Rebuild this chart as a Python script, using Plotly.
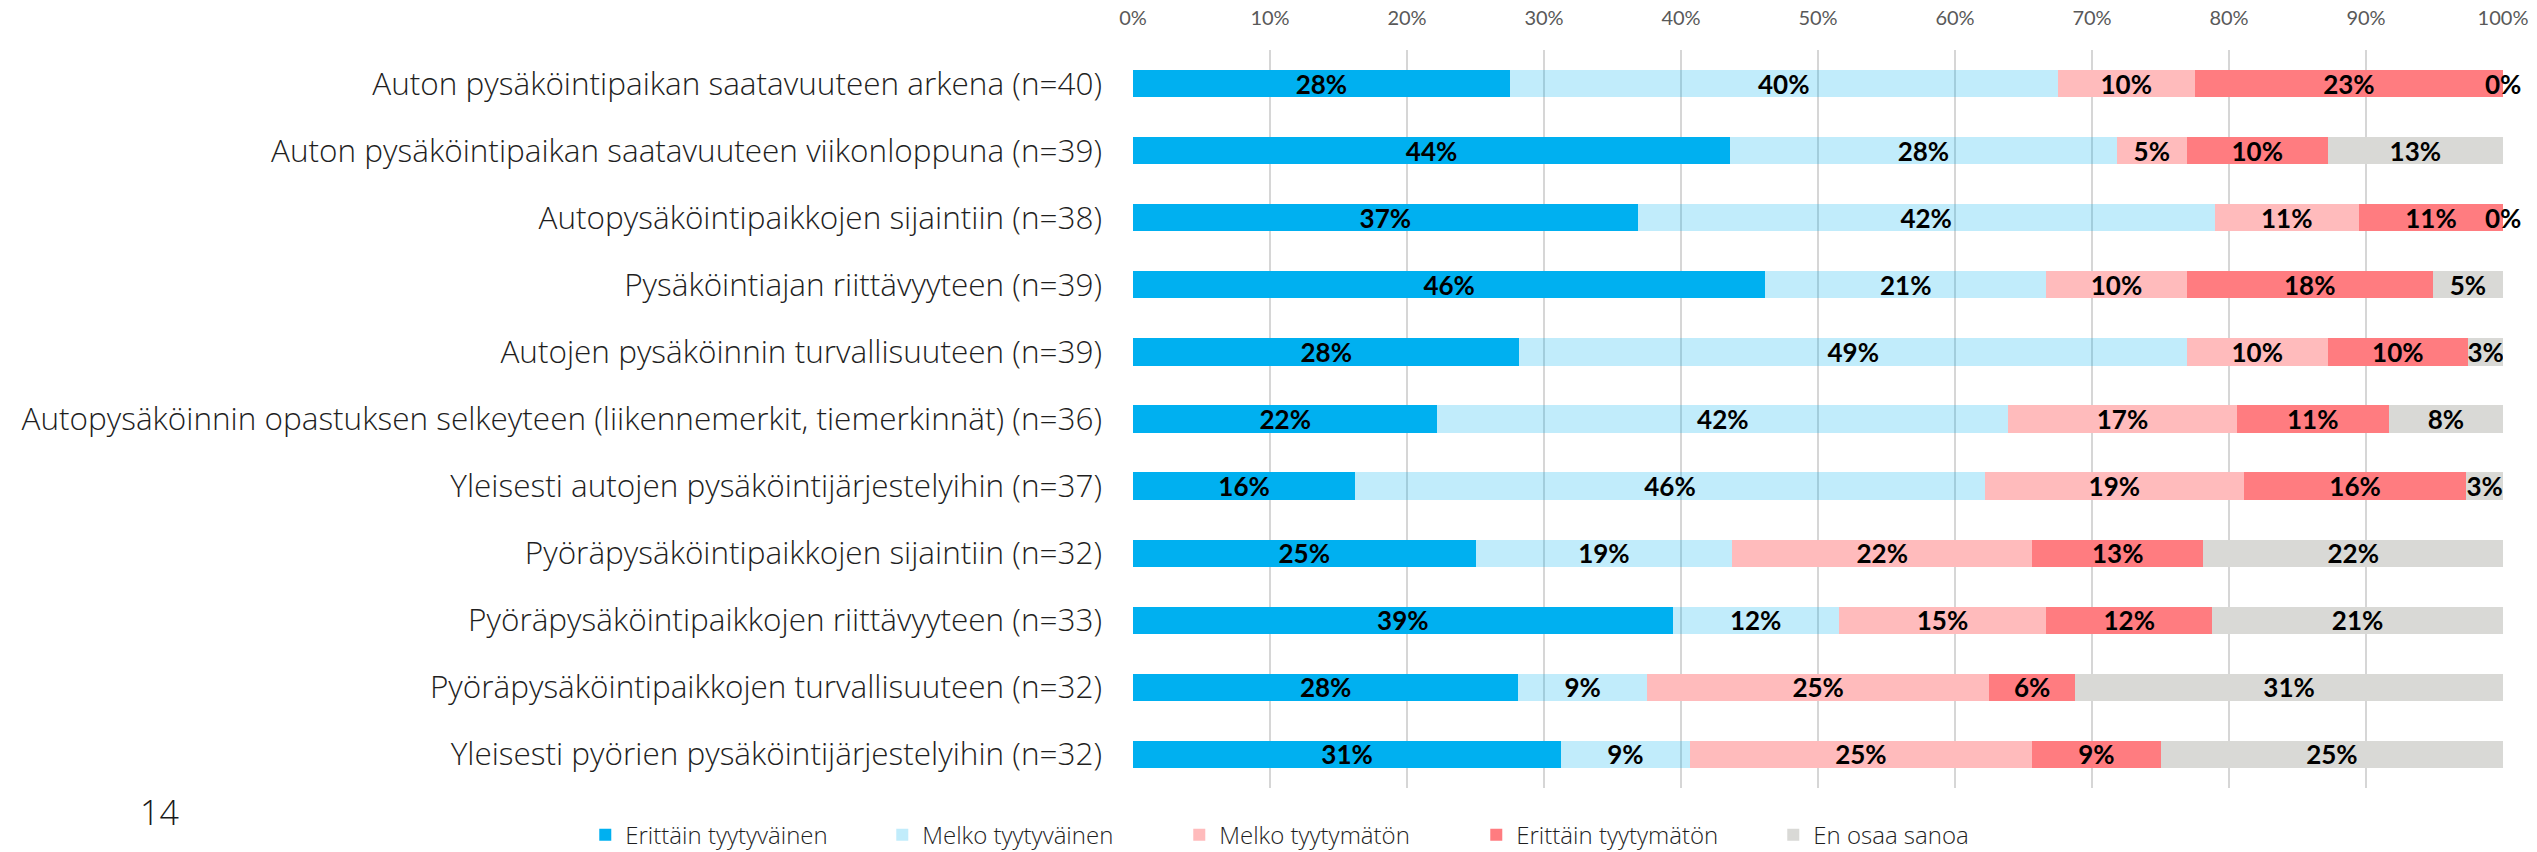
import math
import plotly.graph_objects as go

categories = [
    "Auton pysäköintipaikan saatavuuteen arkena (n=40)",
    "Auton pysäköintipaikan saatavuuteen viikonloppuna (n=39)",
    "Autopysäköintipaikkojen sijaintiin (n=38)",
    "Pysäköintiajan riittävyyteen (n=39)",
    "Autojen pysäköinnin turvallisuuteen (n=39)",
    "Autopysäköinnin opastuksen selkeyteen (liikennemerkit, tiemerkinnät) (n=36)",
    "Yleisesti autojen pysäköintijärjestelyihin (n=37)",
    "Pyöräpysäköintipaikkojen sijaintiin (n=32)",
    "Pyöräpysäköintipaikkojen riittävyyteen (n=33)",
    "Pyöräpysäköintipaikkojen turvallisuuteen (n=32)",
    "Yleisesti pyörien pysäköintijärjestelyihin (n=32)",
]

series_names = [
    "Erittäin tyytyväinen",
    "Melko tyytyväinen",
    "Melko tyytymätön",
    "Erittäin tyytymätön",
    "En osaa sanoa",
]

erittain_tyytyvainen = [27.5, 43.59, 36.84, 46.15, 28.21, 22.22, 16.22, 25.0, 39.39, 28.13, 31.25]
melko_tyytyvainen = [40.0, 28.21, 42.11, 20.51, 48.72, 41.67, 45.95, 18.75, 12.12, 9.38, 9.38]
melko_tyytymaton = [10.0, 5.13, 10.53, 10.26, 10.26, 16.67, 18.92, 21.88, 15.15, 25.0, 25.0]
erittain_tyytymaton = [22.5, 10.26, 10.53, 17.95, 10.26, 11.11, 16.22, 12.5, 12.12, 6.25, 9.38]
en_osaa_sanoa = [0.0, 12.82, 0.0, 5.13, 2.56, 8.33, 2.70, 21.88, 21.21, 31.25, 25.0]

tick_values = [0, 10, 20, 30, 40, 50, 60, 70, 80, 90, 100]
tick_labels = ["0%", "10%", "20%", "30%", "40%", "50%", "60%", "70%", "80%", "90%", "100%"]

colors = ["#00B0F0", "rgba(0,176,240,0.245)", "#FFBBBC", "#FF7C80", "#D9D9D6"]

series_values = [erittain_tyytyvainen, melko_tyytyvainen, melko_tyytymaton,
                 erittain_tyytymaton, en_osaa_sanoa]

LABEL_FONT = "Lato, Open Sans, sans-serif"
TEXT_FONT = "Open Sans, Noto Sans, sans-serif"


def pct_label(v):
    return f"{int(math.floor(v + 0.5))}%"


fig = go.Figure()
for name, vals, col in zip(series_names, series_values, colors):
    fig.add_trace(go.Bar(
        y=categories,
        x=vals,
        name=name,
        orientation="h",
        marker=dict(color=col, line=dict(width=0)),
        text=[pct_label(v) if v > 0 else "" for v in vals],
        textposition="inside",
        insidetextanchor="middle",
        textangle=0,
        constraintext="none",
        textfont=dict(family=LABEL_FONT, size=26, color="#000000", weight="bold"),
        hoverinfo="skip",
    ))

# labels for zero-size segments, placed at the cumulative end of the bar
annotations = []
for i, cat in enumerate(categories):
    cum = 0.0
    for vals in series_values:
        v = vals[i]
        if v == 0:
            annotations.append(dict(
                x=min(cum, 100), y=cat, xref="x", yref="y", text=pct_label(v),
                showarrow=False, xanchor="center", yanchor="middle",
                font=dict(family=LABEL_FONT, size=26, color="#000000", weight="bold"),
            ))
        cum += v

annotations.append(dict(
    x=-0.7105, y=-0.0325, xref="paper", yref="paper", text="14",
    showarrow=False, xanchor="center", yanchor="middle",
    font=dict(family=TEXT_FONT, size=34, color="#1a1a1a", weight=300),
))

fig.update_layout(
    width=2537, height=852,
    barmode="stack",
    bargap=0.593,
    plot_bgcolor="white",
    paper_bgcolor="white",
    margin=dict(l=1133, r=34, t=50, b=64, autoexpand=False),
    xaxis=dict(
        range=[0, 100],
        side="top",
        tickvals=tick_values,
        ticktext=tick_labels,
        showgrid=True,
        gridcolor="#D6D6D6",
        gridwidth=2,
        zeroline=False,
        showline=False,
        ticks="",
        ticklabelstandoff=20,
        tickfont=dict(family=LABEL_FONT, size=20, color="#595959"),
        fixedrange=True,
    ),
    yaxis=dict(
        autorange="reversed",
        showgrid=False,
        zeroline=False,
        showline=False,
        ticks="",
        ticklabelstandoff=30,
        tickfont=dict(family=TEXT_FONT, size=31.5, color="#1f1f1f", weight=300),
        fixedrange=True,
    ),
    legend=dict(
        orientation="h",
        xref="paper", yref="paper",
        x=-0.3998, xanchor="left",
        y=-0.064, yanchor="middle",
        entrywidth=252, entrywidthmode="pixels",
        font=dict(family=TEXT_FONT, size=24, color="#1f1f1f", weight=300),
        traceorder="normal",
        itemclick=False,
    ),
    showlegend=True,
    annotations=annotations,
)

fig.write_html("out.html", config={"displayModeBar": False},
               post_script="document.body.style.margin='0';")
